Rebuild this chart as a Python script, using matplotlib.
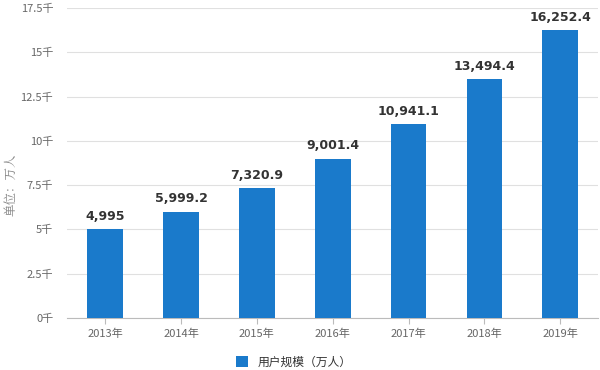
import matplotlib
matplotlib.use("Agg")
import matplotlib.pyplot as plt
import numpy as np

plt.rcParams['font.family'] = ['Noto Sans CJK SC', 'DejaVu Sans']

# 数据
years = ['2013年', '2014年', '2015年', '2016年', '2017年', '2018年', '2019年']
values = [4995, 5999.2, 7320.9, 9001.4, 10941.1, 13494.4, 16252.4]
labels = ['4,995', '5,999.2', '7,320.9', '9,001.4', '10,941.1', '13,494.4', '16,252.4']
yticks = [0, 2500, 5000, 7500, 10000, 12500, 15000, 17500]
yticklabels = ['0千', '2.5千', '5千', '7.5千', '10千', '12.5千', '15千', '17.5千']

fig = plt.figure(figsize=(6, 3.7), dpi=100)
ax = fig.add_axes([0.112, 0.141, 0.885, 0.837])

x = np.arange(len(years))
ax.bar(x, values, width=0.47, color='#1a7acb', zorder=3, label='用户规模（万人）')

for xi, v, t in zip(x, values, labels):
    ax.text(xi, v + 350, t, ha='center', va='bottom', fontsize=9,
            fontweight='bold', color='#333333', family=['DejaVu Sans'])

ax.set_xlim(-0.5, len(years) - 0.5)
ax.set_ylim(0, 17500)
ax.set_yticks(yticks)
ax.set_yticklabels(yticklabels, fontsize=8, color='#666666')
ax.set_xticks(x)
ax.set_xticklabels(years, fontsize=8, color='#666666')
ax.grid(axis='y', color='#e0e0e0', linewidth=0.8, zorder=0)
ax.tick_params(axis='y', length=0, pad=10)
ax.tick_params(axis='x', length=4, color='#bbbbbb')
for s in ['top', 'right', 'left']:
    ax.spines[s].set_visible(False)
ax.spines['bottom'].set_color('#bbbbbb')

fig.text(0.018, 0.5, '单位：万人', rotation=90, ha='center', va='center',
         fontsize=9, color='#888888', family=['Noto Serif CJK SC', 'Noto Sans CJK SC'])

fig.legend(loc='lower center', bbox_to_anchor=(0.49, -0.025), frameon=False,
           fontsize=8.5, handlelength=1.0, handleheight=1.0, labelcolor='#333333')

fig.savefig('out.png', dpi=100)
